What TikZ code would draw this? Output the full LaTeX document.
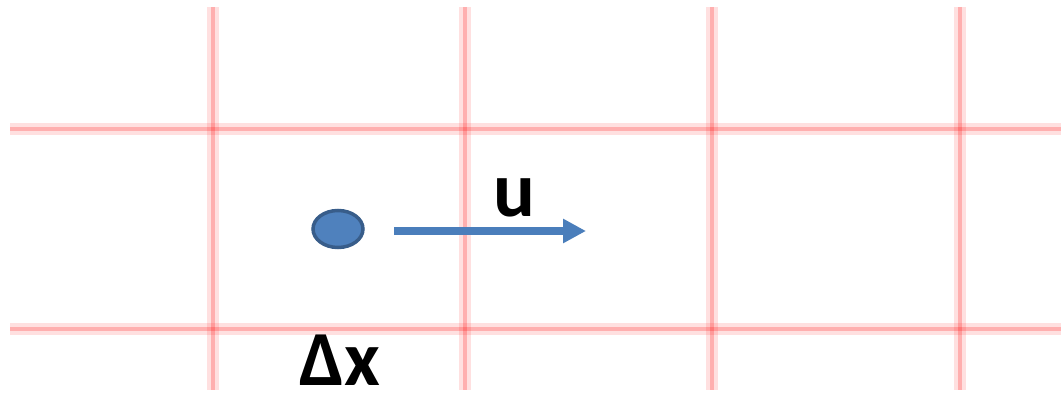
\documentclass[tikz,border=0pt]{standalone}
\usepackage{fontspec}
\usetikzlibrary{shapes.geometric,arrows.meta}
\setmainfont{Carlito}
\definecolor{dotfill}{RGB}{79,129,189}
\definecolor{dotline}{RGB}{56,93,138}
\definecolor{arrowc}{RGB}{74,126,187}
\tikzset{
  gridglow/.style={draw=red,draw opacity=0.12,line width=12pt},
  gridcore/.style={draw=red,draw opacity=0.22,line width=4pt},
  lbl/.style={font=\bfseries\fontsize{78}{80}\selectfont,inner sep=0pt,text depth=0pt}
}
\begin{document}
\begin{tikzpicture}[x=1pt,y=-1pt]
\useasboundingbox (0,0) rectangle (1061,393);
% grid
\foreach \xx in {213,465,712,960}{
  \draw[gridglow] (\xx,7) -- (\xx,390);
  \draw[gridcore] (\xx,7) -- (\xx,390);
}
\foreach \yy in {129,329}{
  \draw[gridglow] (10,\yy) -- (1061,\yy);
  \draw[gridcore] (10,\yy) -- (1061,\yy);
}
% particle
\node[ellipse,draw=dotline,fill=dotfill,line width=3.5pt,minimum width=50pt,minimum height=37pt,inner sep=0pt] (p) at (338,229) {};
\coordinate (a0) at (394,231);
\coordinate (a1) at (586,231);
\draw[draw=arrowc,line width=8pt,-{Triangle[length=23pt,width=23pt]}] (a0) -- (a1);
\node[lbl,anchor=base] (u) at (514,217) {u};
\node[lbl,anchor=base] (dx) at (340,385) {Δx};
\end{tikzpicture}
\end{document}
